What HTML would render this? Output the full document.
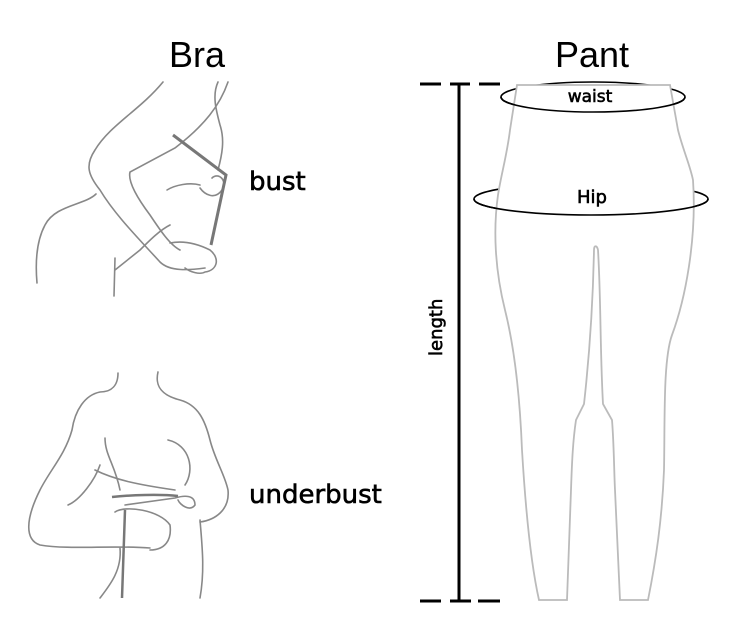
<!DOCTYPE html>
<html><head><meta charset="utf-8"><style>
html,body{margin:0;padding:0;background:#fff;}
svg{display:block;}
text{font-family:"Liberation Sans","DejaVu Sans",sans-serif;}
.lb{font-family:"DejaVu Sans","Liberation Sans",sans-serif;stroke:#000;stroke-width:0.6;}
</style></head><body>
<svg width="753" height="618" viewBox="0 0 753 618" xmlns="http://www.w3.org/2000/svg">
<rect width="753" height="618" fill="#fff"/>
<text x="197" y="67" font-size="36" text-anchor="middle" fill="#000">Bra</text>
<text x="592" y="67" font-size="36" text-anchor="middle" fill="#000">Pant</text>

<!-- top figure -->
<g fill="none" stroke="#888" stroke-width="1.6" stroke-linecap="round">
<path d="M163 82 C140 110 110 125 95 150 C85 165 88 175 100 190 C115 215 140 240 160 262 C170 272 190 270 205 268"/>
<path d="M228 82 C220 105 205 125 175 148 L130 172 C128 180 135 195 150 215 C160 230 170 245 180 250"/>
<path d="M218 82 C212 95 216 110 220 125 C225 140 222 155 218 170"/>
<path d="M96 194 C85 205 55 205 45 225 C37 240 35 260 37 283"/>
<path d="M115 270 L140 250 C150 240 160 230 170 225"/>
<path d="M115 258 L114 296"/>
<path d="M167 190 C175 185 190 182 200 185"/>
<path d="M200 188 C205 195 215 200 222 190 C228 180 218 172 212 178"/>
<path d="M170 243 C185 240 200 245 210 250 C220 258 218 270 205 272 C200 275 190 272 185 268"/>
</g>
<path d="M173 135 L226 175 L211 245" fill="none" stroke="#777" stroke-width="3"/>

<text class="lb" x="249" y="190" font-size="26" fill="#000">bust</text>

<!-- bottom figure -->
<g fill="none" stroke="#888" stroke-width="1.6" stroke-linecap="round">
<path d="M118 373 C118 385 112 392 100 392 C85 395 75 410 72 430 C65 455 50 470 40 490 C25 520 25 540 40 545 C70 550 110 545 150 548"/>
<path d="M158 372 C155 385 160 395 180 400 C198 405 205 420 210 440 C215 460 225 475 228 490 C230 510 215 520 200 522"/>
<path d="M68 505 C80 500 95 480 100 465"/>
<path d="M95 470 C115 480 140 485 175 490"/>
<path d="M105 438 C105 455 115 465 120 490"/>
<path d="M168 440 C190 445 195 470 185 485"/>
<path d="M115 512 C125 505 160 510 170 525 C172 540 165 550 150 550"/>
<path d="M120 548 C122 570 110 585 100 598"/>
<path d="M200 520 C202 545 205 570 200 598"/>
<path d="M125 505 L175 498 C185 495 195 495 195 505 C190 512 180 505 178 500"/>
</g>
<path d="M112 497 C130 495 160 494 178 496 M125 510 L122 598" fill="none" stroke="#777" stroke-width="2.5"/>

<text class="lb" x="249" y="503" font-size="26" fill="#000">underbust</text>

<!-- length line -->
<g stroke="#000" stroke-width="3" fill="none">
<line x1="459" y1="84" x2="459" y2="601"/>
<line x1="420" y1="84" x2="441" y2="84"/>
<line x1="450" y1="84" x2="470" y2="84"/>
<line x1="479" y1="84" x2="500" y2="84"/>
<line x1="420" y1="601" x2="441" y2="601"/>
<line x1="450" y1="601" x2="471" y2="601"/>
<line x1="478" y1="601" x2="500" y2="601"/>
</g>
<text class="lb" x="0" y="0" font-size="18" fill="#000" transform="translate(442 356) rotate(-90)">length</text>

<!-- ellipses back -->
<ellipse cx="593" cy="97" rx="92" ry="15" fill="none" stroke="#000" stroke-width="1.6"/>
<ellipse cx="591" cy="199" rx="117" ry="16" fill="none" stroke="#000" stroke-width="1.6"/>

<!-- pants -->
<path d="M517 85 L670 85 L678 130 C683 150 690 165 693 180 C697 240 685 300 672 335 C663 360 665 420 664 470 C662 520 656 560 648 600 L620 600 L615 490 C614 470 614 445 612 420 L603 404 C600 350 601 300 598 250 C597 245 594 245 594 250 C593 300 590 350 584 404 L576 420 C573 440 572 460 571 490 L567 600 L539 600 C530 560 525 500 522 450 C520 400 515 350 505 310 C495 270 493 230 498 195 C501 175 507 155 510 130 Z" fill="#fff" stroke="#bbb" stroke-width="1.8"/>

<!-- ellipse front arcs -->
<path d="M501 97 A92 15 0 0 0 685 97" fill="none" stroke="#000" stroke-width="1.6"/>
<path d="M474 199 A117 16 0 0 0 708 199" fill="none" stroke="#000" stroke-width="1.6"/>
<text class="lb" x="590" y="102" font-size="17" text-anchor="middle" fill="#000">waist</text>
<text class="lb" x="592" y="203" font-size="18" text-anchor="middle" fill="#000">Hip</text>
</svg>
</body></html>
